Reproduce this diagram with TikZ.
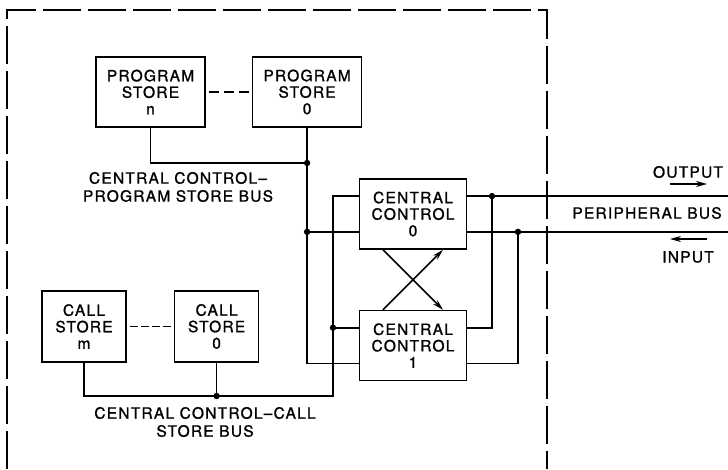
\documentclass[tikz,border=0pt]{standalone}
\usepackage{fontspec}
\newfontfamily\labelfont{TeX Gyre Heros}[LetterSpace=8, FakeBold=1.2]
\usepackage{tikz}
\usetikzlibrary{arrows.meta, positioning, calc}
\tikzstyle{unit} = [rectangle, draw=black, line width=1.6pt, align=center, inner sep=0pt, font=\labelfont\fontsize{15.5}{16.5}\selectfont]
\tikzstyle{busname} = [align=center, inner sep=0pt, font=\labelfont\fontsize{15.5}{18}\selectfont]
\tikzstyle{bus} = [line width=1.6pt]
\tikzstyle{arrow} = [line width=1.6pt, -{Stealth[length=11pt,width=6pt]}]
\tikzstyle{frame} = [line width=1.3pt, dash pattern=on 38pt off 7pt]
\tikzstyle{gap} = [line width=1.1pt, shorten >=3pt, shorten <=3pt]

\begin{document}
\begin{tikzpicture}[x=1pt, y=-1pt, node distance=46pt]
  \useasboundingbox (0,0) rectangle (728,469);
  \draw[frame] (7,469) -- (7,10) -- (547,10) -- (547,469);

  % stores and central controls
  \node[unit, minimum width=109pt, minimum height=70pt] (psn) at (150.5,92) {PROGRAM\\STORE\\n};
  \node[unit, minimum width=109pt, minimum height=70pt, right=of psn] (ps0) {PROGRAM\\STORE\\0};
  \node[unit, minimum width=84pt, minimum height=71pt] (csm) at (84,326.5) {CALL\\STORE\\m};
  \node[unit, minimum width=84pt, minimum height=71pt, right=47pt of csm] (cs0) {CALL\\STORE\\0};
  \node[unit, minimum width=107pt, minimum height=70pt] (cc0) at (413,214) {CENTRAL\\CONTROL\\0};
  \node[unit, minimum width=107pt, minimum height=70pt, below=60pt of cc0] (cc1) {CENTRAL\\CONTROL\\1};

  % ports
  \coordinate (c0wa) at ($(cc0.north west)!0.25!(cc0.south west)$);
  \coordinate (c0wb) at ($(cc0.north west)!0.75!(cc0.south west)$);
  \coordinate (c1wa) at ($(cc1.north west)!0.25!(cc1.south west)$);
  \coordinate (c1wb) at ($(cc1.north west)!0.75!(cc1.south west)$);
  \coordinate (c0ea) at ($(cc0.north east)!0.25!(cc0.south east)$);
  \coordinate (c0eb) at ($(cc0.north east)!0.75!(cc0.south east)$);
  \coordinate (c1ea) at ($(cc1.north east)!0.25!(cc1.south east)$);
  \coordinate (c1eb) at ($(cc1.north east)!0.75!(cc1.south east)$);

  % junctions
  \coordinate (jps) at (ps0.south |- 0,163);
  \coordinate (jpc0) at (ps0.south |- c0wb);
  \coordinate (cbend) at (333,396);
  \coordinate (jcs) at (cs0.south |- cbend);
  \coordinate (jcc1) at (cbend |- c1wa);
  \coordinate (jo) at (492,0 |- c0ea);
  \coordinate (ji) at (518,0 |- c0eb);
  \coordinate (outend) at (728,0 |- c0ea);
  \coordinate (inend) at (728,0 |- c0eb);

  \draw[gap, dash pattern=on 10pt off 5pt] (psn) -- (ps0);
  \draw[gap, dash pattern=on 8pt off 3pt] (csm) -- (cs0);

  \draw[bus] (psn.south) |- (jps);
  \draw[bus] (ps0.south) |- (c1wb);
  \draw[bus] (jpc0) -- (c0wb);
  \draw[bus] (csm.south) |- (cbend) |- (c0wa);
  \draw[bus] (cs0.south) -- (jcs);
  \draw[bus] (jcc1) -- (c1wa);
  \draw[bus] (c0ea) -- (outend);
  \draw[bus] (c0eb) -- (inend);
  \draw[bus] (c1ea) -| (jo);
  \draw[bus] (c1eb) -| (ji);

  \draw[arrow] ($(cc0.south)+(-30,0)$) -- ($(cc1.north)+(30,0)$);
  \draw[arrow] ($(cc1.north)+(-30,0)$) -- ($(cc0.south)+(30,0)$);

  \foreach \j in {jps, jpc0, jcs, jcc1, jo, ji}
    \fill (\j) circle (3.2pt);

  % bus names
  \node[busname] (psbus) at (178,187) {CENTRAL CONTROL–\\PROGRAM STORE BUS};
  \node[busname] (csbus) at (205,422) {CENTRAL CONTROL–CALL\\STORE BUS};
  \node[busname] (outlbl) at (688,172) {OUTPUT};
  \node[busname] (pbus) at (647,213) {PERIPHERAL BUS};
  \node[busname] (inlbl) at (688,257) {INPUT};
  \coordinate (oa) at (670,184);
  \coordinate (ob) at (707,184);
  \coordinate (ia) at (670,239);
  \coordinate (ib) at (707,239);
  \draw[arrow] (oa) -- (ob);
  \draw[arrow] (ib) -- (ia);
\end{tikzpicture}
\end{document}
